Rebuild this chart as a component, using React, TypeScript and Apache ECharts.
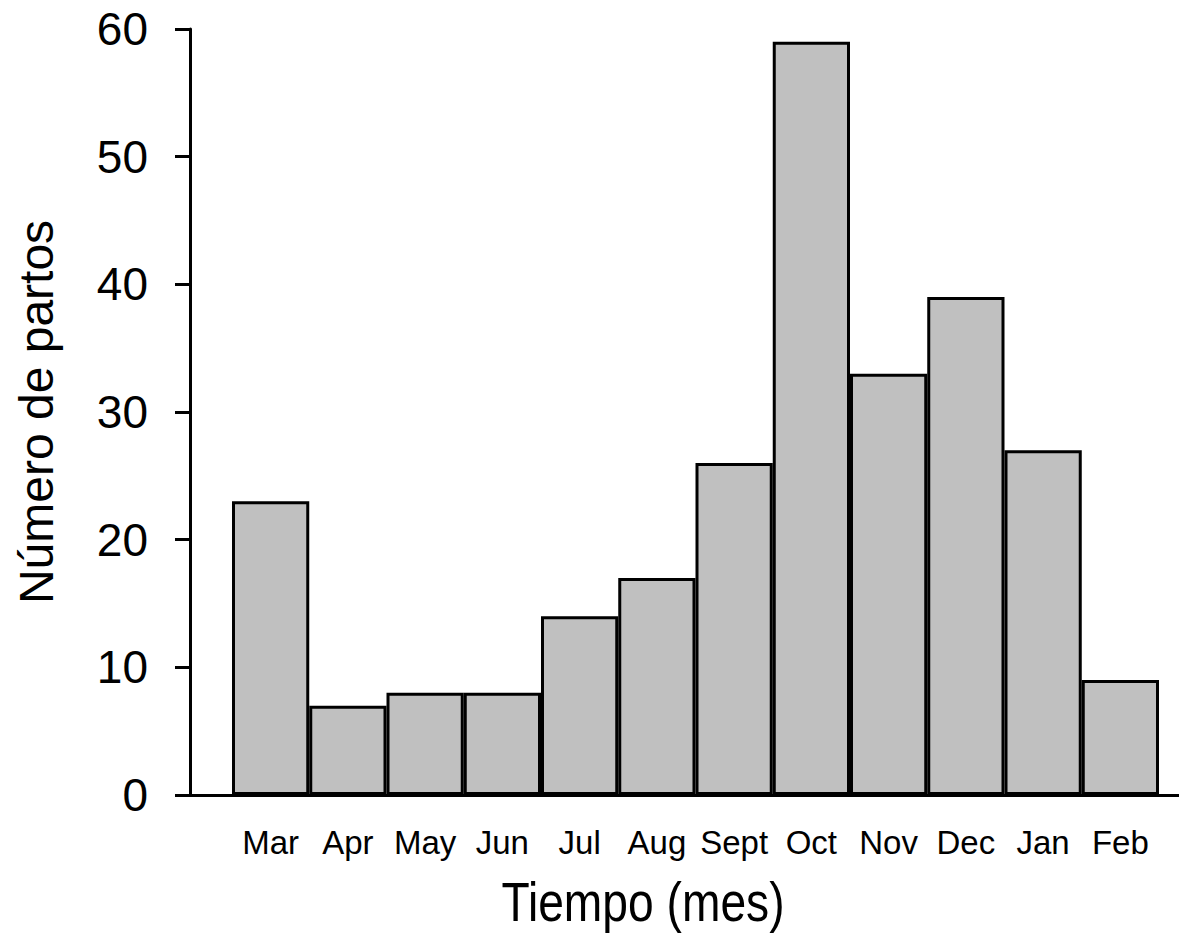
import React, { useEffect, useRef } from "react";
import * as echarts from "echarts";

// Monthly counts of births
const months = ["Mar", "Apr", "May", "Jun", "Jul", "Aug", "Sept", "Oct", "Nov", "Dec", "Jan", "Feb"];
const partos = [23, 7, 8, 8, 14, 17, 26, 59, 33, 39, 27, 9];

const yMin = 0;
const yMax = 60;
const yStep = 10;

const FONT = "'Liberation Sans', Arial, Helvetica, sans-serif";

export default function App() {
  const ref = useRef<HTMLDivElement>(null);

  useEffect(() => {
    if (!ref.current) return;
    const chart = echarts.init(ref.current, null, { renderer: "svg" });

    const option: echarts.EChartsOption = {
      animation: false,
      backgroundColor: "#ffffff",
      grid: [
        // frame grid: carries the y axis and the long baseline
        { left: 190, right: 0, top: 29, bottom: 138, containLabel: false },
        // bar grid: months sit inside a narrower band
        { left: 232, right: 20, top: 29, bottom: 138, containLabel: false },
      ],
      xAxis: [
        {
          gridIndex: 0,
          type: "value",
          min: 0,
          max: 1,
          axisLine: { show: true, lineStyle: { color: "#000", width: 3 } },
          axisTick: { show: false },
          axisLabel: { show: false },
          splitLine: { show: false },
        },
        {
          gridIndex: 1,
          type: "category",
          data: months,
          boundaryGap: true,
          axisLine: { show: false },
          axisTick: { show: false },
          splitLine: { show: false },
          axisLabel: {
            interval: 0,
            margin: 31,
            color: "#000",
            fontFamily: FONT,
            fontSize: 33,
          },
        },
      ],
      yAxis: [
        {
          gridIndex: 0,
          type: "value",
          min: yMin,
          max: yMax,
          interval: yStep,
          name: "Número de partos",
          nameLocation: "middle",
          nameGap: 130,
          nameRotate: 90,
          nameTextStyle: { color: "#000", fontFamily: FONT, fontSize: 48 },
          axisLine: { show: true, lineStyle: { color: "#000", width: 3 } },
          axisTick: { show: true, inside: false, length: 15, lineStyle: { color: "#000", width: 3 } },
          axisLabel: { margin: 42, color: "#000", fontFamily: FONT, fontSize: 46 },
          splitLine: { show: false },
        },
        {
          gridIndex: 1,
          type: "value",
          min: yMin,
          max: yMax,
          interval: yStep,
          show: false,
          splitLine: { show: false },
        },
      ],
      series: [
        {
          type: "bar",
          xAxisIndex: 1,
          yAxisIndex: 1,
          data: partos,
          barCategoryGap: "0%",
          itemStyle: { color: "#c0c0c0", borderColor: "#000", borderWidth: 3 },
        },
      ],
      graphic: [
        {
          type: "text",
          x: 643,
          y: 902,
          scaleX: 0.84,
          style: {
            text: "Tiempo (mes)",
            fontFamily: FONT,
            fontSize: 55,
            fill: "#000",
            textAlign: "center",
            textVerticalAlign: "middle",
          },
        },
      ],
    };

    chart.setOption(option);
    return () => chart.dispose();
  }, []);

  return (
    <div
      ref={ref}
      style={{ position: "fixed", left: 0, top: 0, width: 1179, height: 933, background: "#fff" }}
    />
  );
}
